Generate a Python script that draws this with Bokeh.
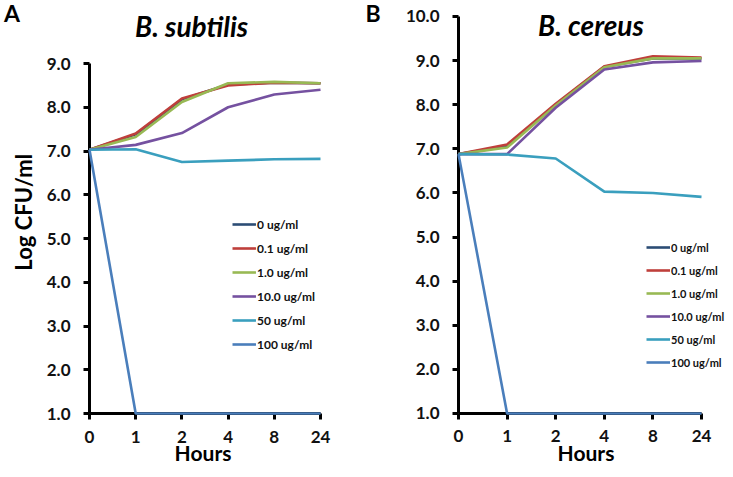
from bokeh.plotting import figure
from bokeh.layouts import row
from bokeh.models import (FixedTicker, NumeralTickFormatter, Label, Legend,
                          LegendItem, Range1d)
from bokeh.embed import file_html
from bokeh.resources import INLINE
from math import pi

# ---------------- data ----------------
hours = ["0", "1", "2", "4", "8", "24"]
conc_labels = ["0 ug/ml", "0.1 ug/ml", "1.0 ug/ml", "10.0 ug/ml", "50 ug/ml", "100 ug/ml"]
series_colors = ["#2C4D75", "#BF3F3B", "#98B954", "#7551A0", "#3A9FBE", "#4A7EBB"]

subtilis_0 = [7.03, 7.38, 8.18, 8.52, 8.56, 8.55]
subtilis_01 = [7.03, 7.40, 8.20, 8.50, 8.56, 8.55]
subtilis_1 = [7.03, 7.32, 8.12, 8.55, 8.58, 8.55]
subtilis_10 = [7.03, 7.14, 7.41, 8.00, 8.29, 8.40]
subtilis_50 = [7.03, 7.04, 6.75, 6.78, 6.81, 6.82]
subtilis_100 = [7.03, 1.0, 1.0, 1.0, 1.0, 1.0]

cereus_0 = [6.88, 7.06, 8.00, 8.86, 9.05, 9.05]
cereus_01 = [6.88, 7.10, 8.02, 8.87, 9.10, 9.07]
cereus_1 = [6.88, 7.03, 7.98, 8.85, 9.05, 9.05]
cereus_10 = [6.88, 6.88, 7.93, 8.80, 8.96, 8.99]
cereus_50 = [6.88, 6.87, 6.78, 6.03, 6.00, 5.91]
cereus_100 = [6.88, 1.0, 1.0, 1.0, 1.0, 1.0]

subtilis = [subtilis_0, subtilis_01, subtilis_1, subtilis_10, subtilis_50, subtilis_100]
cereus = [cereus_0, cereus_01, cereus_1, cereus_10, cereus_50, cereus_100]

FONT = "Lato"
xs = list(range(len(hours)))
FIG_H = 468


def make_panel(series, ymax, width, xr, yr, legend_loc, legend_spacing, legend_fs,
               title, title_xy, letter_xy, hours_xy, ylabel_xy=None):
    p = figure(width=width, height=FIG_H, output_backend="svg", toolbar_location=None,
               x_range=Range1d(*xr), y_range=Range1d(*yr),
               min_border_left=0, min_border_right=0, min_border_top=0,
               min_border_bottom=0)
    p.outline_line_color = None
    p.xgrid.visible = False
    p.ygrid.visible = False
    p.background_fill_color = "white"
    p.border_fill_color = "white"

    items = []
    for vals, lab, col in zip(series, conc_labels, series_colors):
        r = p.line(xs, vals, line_color=col, line_width=2.6, level="overlay")
        items.append(LegendItem(label=lab, renderers=[r]))

    for ax in (p.xaxis[0], p.yaxis[0]):
        ax.axis_line_width = 3
        ax.axis_line_color = "black"
        ax.major_tick_line_width = 3
        ax.major_tick_line_color = "black"
        ax.major_tick_out = 6
        ax.major_tick_in = 0
        ax.minor_tick_out = 0
        ax.minor_tick_in = 0
        ax.major_label_text_font = FONT
        ax.major_label_text_font_style = "bold"
        ax.major_label_text_font_size = "17px"
        ax.major_label_text_color = "#111111"

    p.xaxis.fixed_location = 1
    p.xaxis.bounds = (0, len(hours) - 1)
    p.xaxis.ticker = FixedTicker(ticks=xs)
    p.xaxis.major_label_overrides = {i: h for i, h in enumerate(hours)}
    p.xaxis.major_label_standoff = 11

    p.yaxis.fixed_location = 0
    p.yaxis.bounds = (1, ymax)
    p.yaxis.ticker = FixedTicker(ticks=list(range(1, int(ymax) + 1)))
    p.yaxis.formatter = NumeralTickFormatter(format="0.0")
    p.yaxis.major_label_standoff = 13

    legend = Legend(items=items, location=legend_loc, padding=0, margin=0,
                    spacing=legend_spacing, glyph_width=24, glyph_height=20,
                    label_height=20, label_standoff=1,
                    label_text_font=FONT, label_text_font_style="bold",
                    label_text_font_size=legend_fs, label_text_color="#111111",
                    background_fill_alpha=0, border_line_alpha=0)
    p.add_layout(legend)

    p.add_layout(Label(x=title_xy[0], y=title_xy[1], text=title,
                       text_font=FONT, text_font_style="bold italic",
                       text_font_size="28px", text_align="center",
                       text_baseline="middle", text_color="black"))
    p.add_layout(Label(x=letter_xy[0], y=letter_xy[1], text=letter_xy[2],
                       text_font=FONT, text_font_style="bold",
                       text_font_size="23px", text_align="center",
                       text_baseline="middle", text_color="black"))
    p.add_layout(Label(x=hours_xy[0], y=hours_xy[1], text="Hours",
                       text_font=FONT, text_font_style="bold",
                       text_font_size="21px", text_align="center",
                       text_baseline="middle", text_color="black"))
    if ylabel_xy is not None:
        p.add_layout(Label(x=ylabel_xy[0], y=ylabel_xy[1], text="Log CFU/ml",
                           angle=pi / 2, text_font=FONT, text_font_style="bold",
                           text_font_size="22px", text_align="center",
                           text_baseline="middle", text_color="black"))
    return p


pa = make_panel(subtilis, 9, width=363, xr=(-1.9264, 5.9307), yr=(-0.2571, 10.44),
                legend_loc=(232, 114), legend_spacing=4, legend_fs="12px",
                title="B. subtilis", title_xy=(2.21, 9.846),
                letter_xy=(-1.677, 10.143, "A"), hours_xy=(2.457, 0.11),
                ylabel_xy=(-1.43, 5.6))
pb = make_panel(cereus, 10, width=362, xr=(-1.9547, 5.4938), yr=(-0.2471, 10.3627),
                legend_loc=(283, 96), legend_spacing=3, legend_fs="11px",
                title="B. cereus", title_xy=(2.726, 9.807),
                letter_xy=(-1.759, 10.079, "B"), hours_xy=(2.623, 0.116))

layout = row(pa, pb)
open("out.html", "w").write(file_html(layout, INLINE))
